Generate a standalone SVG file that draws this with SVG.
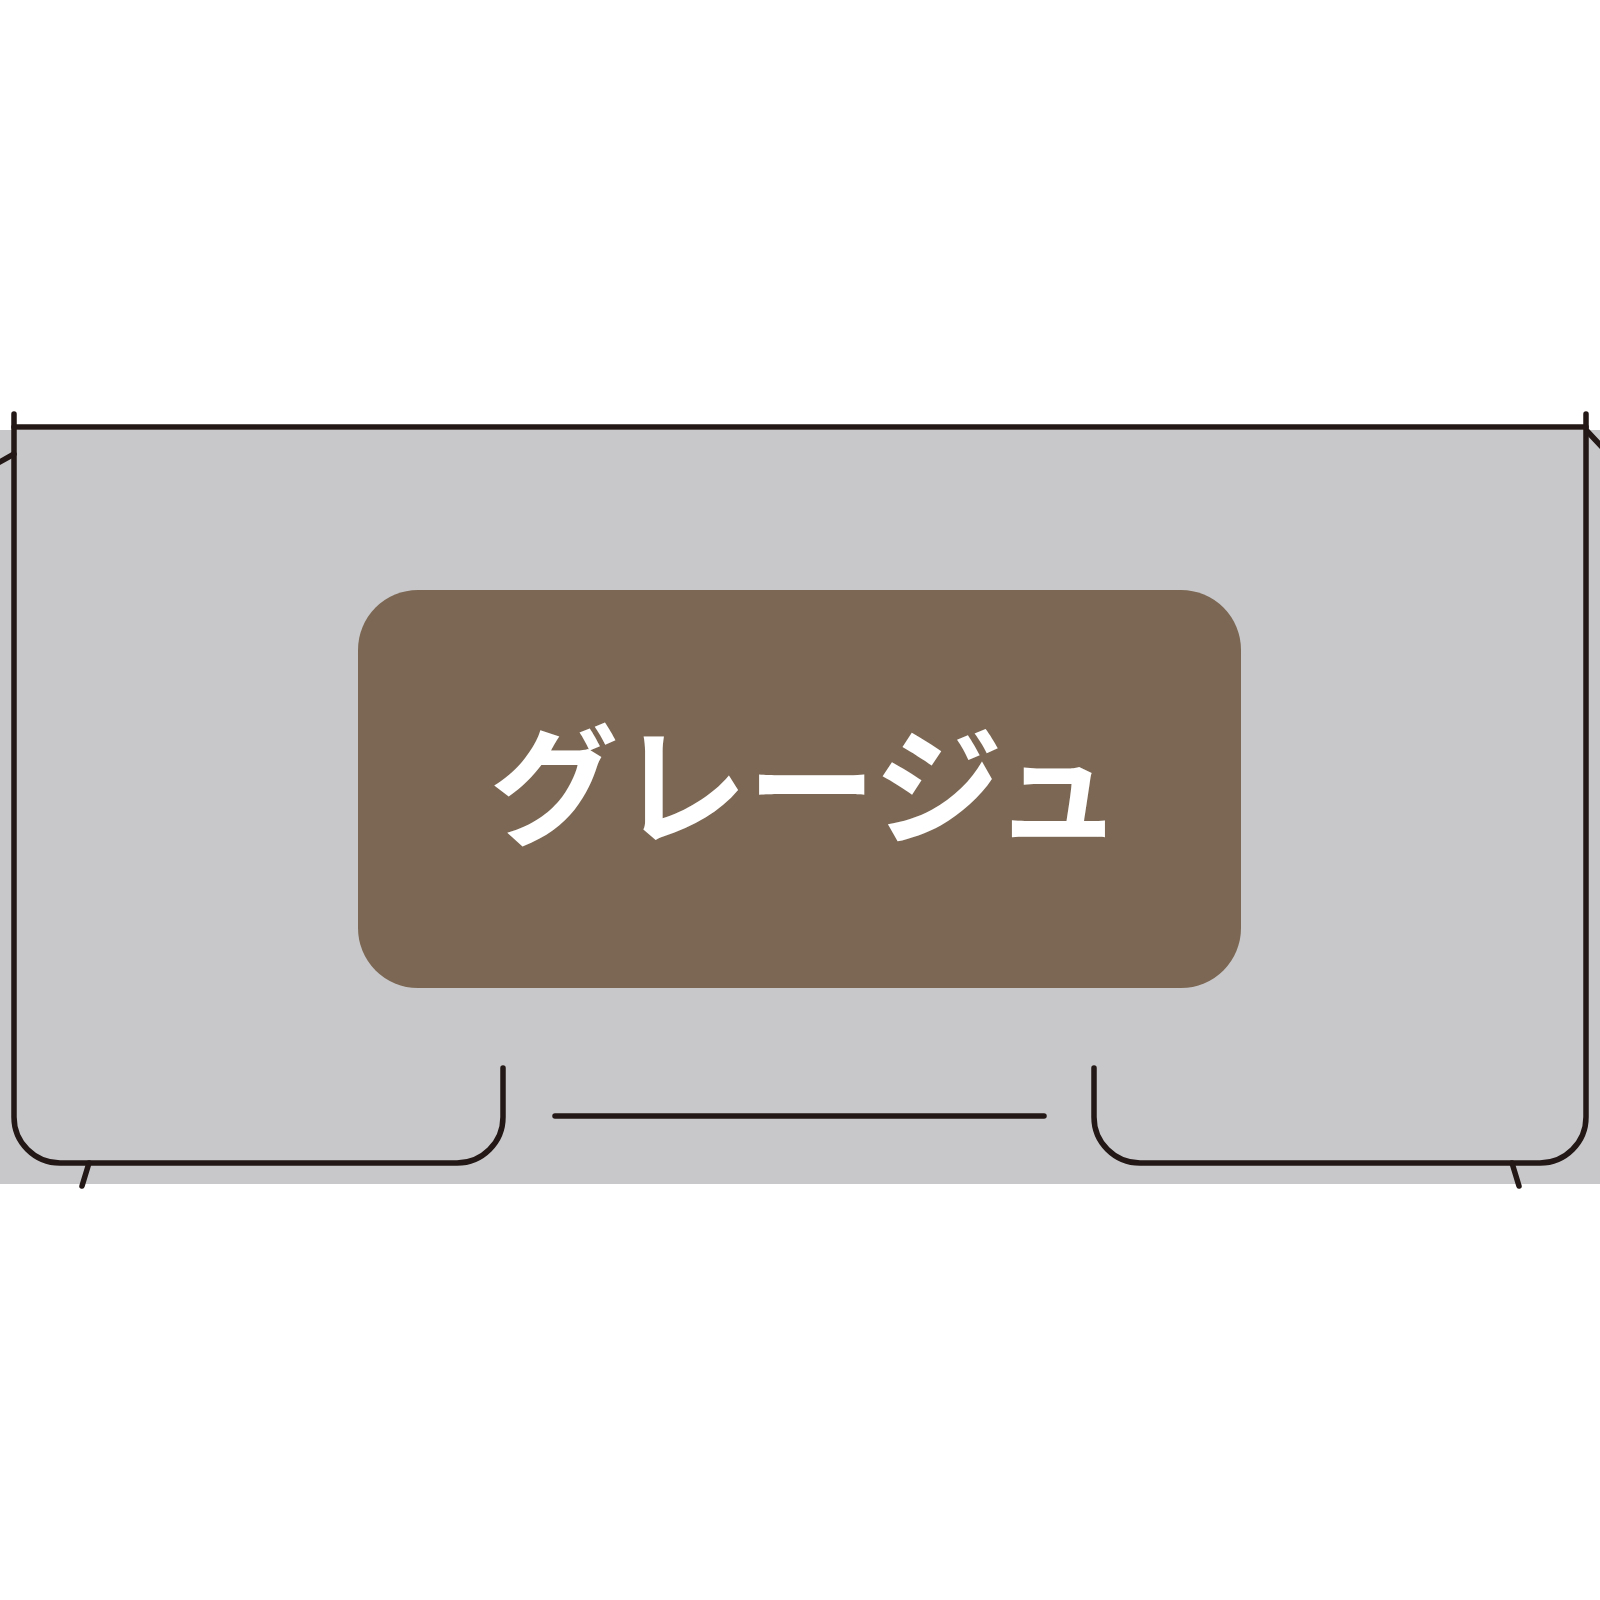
<svg xmlns="http://www.w3.org/2000/svg" width="1600" height="1600" viewBox="0 0 1600 1600">
<style>
.ln{fill:none;stroke:#231815;stroke-width:5.5;stroke-linecap:round;stroke-linejoin:round}
.lbl{font-family:"Noto Sans CJK JP","Noto Sans CJK SC",sans-serif;font-weight:700;font-size:129px;fill:#ffffff}
</style>
<rect width="1600" height="1600" fill="#ffffff"/>
<rect x="0" y="430" width="1600" height="754" fill="#c8c8ca"/>
<g id="frame">
<path class="ln" d="M14 414 V1117 A46 46 0 0 0 60 1163 H457 A46 46 0 0 0 503 1117 V1068"/>
<path class="ln" d="M1586 414 V1117 A46 46 0 0 1 1540 1163 H1140 A46 46 0 0 1 1094 1117 V1068"/>
<line class="ln" x1="14" y1="427" x2="1586" y2="427"/>
<line class="ln" x1="555" y1="1116" x2="1044" y2="1116"/>
<line class="ln" x1="89" y1="1163" x2="82" y2="1186"/>
<line class="ln" x1="1512" y1="1163" x2="1519" y2="1186"/>
<line class="ln" x1="14" y1="454" x2="-2" y2="463"/>
<line class="ln" x1="1587" y1="431" x2="1602" y2="447"/>
</g>
<g id="label">
<rect x="358" y="590" width="883" height="398" rx="60" ry="60" fill="#7b6753"/>
<text class="lbl" x="806" y="835" text-anchor="middle">グレージュ</text>
</g>
</svg>
